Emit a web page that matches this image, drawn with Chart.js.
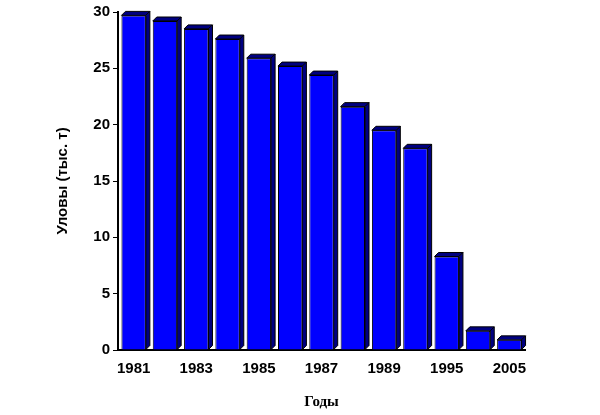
<!DOCTYPE html>
<html><head><meta charset="utf-8">
<script src="https://cdn.jsdelivr.net/npm/chart.js@4"></script>
<style>body{margin:0;background:#fff}</style></head>
<body><canvas id="c" width="600" height="415"></canvas>
<script>
const categories=['1981','1982','1983','1984','1985','1986','1987','1988','1989','1990','1995','2000','2005'];
const values=[29.7,29.2,28.5,27.6,25.9,25.2,24.4,21.6,19.5,17.9,8.3,1.7,0.9];
const yTicks=[0,5,10,15,20,25,30];
const depth={id:'depth',afterDatasetsDraw(ch){const c=ch.ctx,d=4;
ch.getDatasetMeta(0).data.forEach(b=>{const l=b.x-b.width/2,r=b.x+b.width/2,t=b.y,bs=b.base;
c.save();c.fillStyle='#000080';c.strokeStyle='#000';c.lineWidth=1;
c.beginPath();c.moveTo(l,t);c.lineTo(l+d,t-d);c.lineTo(r+d,t-d);c.lineTo(r,t);c.closePath();c.fill();c.stroke();
c.beginPath();c.moveTo(r,t);c.lineTo(r+d,t-d);c.lineTo(r+d,bs-d);c.lineTo(r,bs);c.closePath();c.fill();c.stroke();
c.restore();});}};
new Chart(document.getElementById('c'),{type:'bar',
data:{labels:categories,datasets:[{data:values,backgroundColor:'#0000FF',borderColor:'#000',borderWidth:1,categoryPercentage:1,barPercentage:0.78}]},
options:{responsive:false,animation:false,plugins:{legend:{display:false},tooltip:{enabled:false}},
layout:{padding:{left:50,right:75,top:11,bottom:0}},
scales:{
y:{min:0,max:30,afterBuildTicks:a=>{a.ticks=yTicks.map(v=>({value:v}))},afterFit:a=>{a.width=68},
border:{color:'#000',width:2},grid:{drawOnChartArea:false,color:'#000',tickLength:5},
ticks:{color:'#000',font:{family:'Liberation Sans',size:15,weight:'bold'}},
title:{display:true,text:'Уловы (тыс. т)',color:'#000',font:{family:'Liberation Sans',size:15,weight:'bold'}}},
x:{afterFit:a=>{a.height=65},border:{color:'#000',width:2},grid:{display:false},
ticks:{autoSkip:false,maxRotation:0,color:'#000',padding:2,font:{family:'Liberation Sans',size:15,weight:'bold'},callback:(v,i)=>i%2==0?categories[i]:''},
title:{display:true,text:'Годы',color:'#000',padding:{top:18},font:{family:'Liberation Serif',size:15,weight:'bold'}}}}},
plugins:[depth]});
</script></body></html>
